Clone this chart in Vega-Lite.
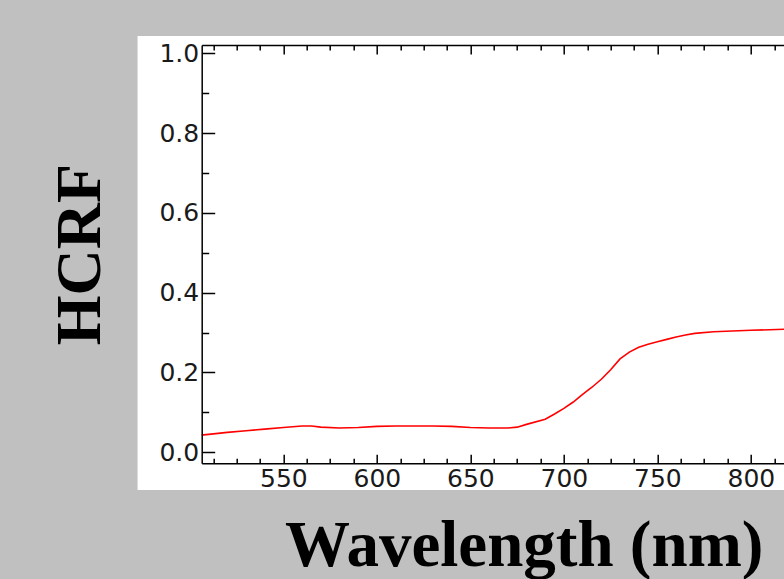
{
  "$schema": "https://vega.github.io/schema/vega-lite/v6.json",
  "width": 582.3,
  "height": 418.3,
  "autosize": {"type": "none"},
  "padding": {"left": 201.7, "top": 45, "right": 0, "bottom": 115.7},
  "background": "#c0c0c0",
  "config": {
    "view": {"stroke": null},
    "axis": {
      "domainColor": "#000000",
      "domainWidth": 1.5,
      "tickColor": "#000000",
      "tickWidth": 1.5,
      "grid": false,
      "labelFont": "DejaVu Sans",
      "labelFontSize": 25,
      "labelColor": "#1a1a1a",
      "titleColor": "#000000",
      "titleFont": "Liberation Serif",
      "titleFontWeight": "bold"
    }
  },
  "data": {
    "values": [
      {"wl": 506, "hcrf": 0.043},
      {"wl": 510, "hcrf": 0.045},
      {"wl": 520, "hcrf": 0.05},
      {"wl": 530, "hcrf": 0.054},
      {"wl": 540, "hcrf": 0.058},
      {"wl": 550, "hcrf": 0.062},
      {"wl": 560, "hcrf": 0.066},
      {"wl": 565, "hcrf": 0.066},
      {"wl": 570, "hcrf": 0.063},
      {"wl": 580, "hcrf": 0.061},
      {"wl": 590, "hcrf": 0.062},
      {"wl": 600, "hcrf": 0.065},
      {"wl": 610, "hcrf": 0.066},
      {"wl": 620, "hcrf": 0.066},
      {"wl": 630, "hcrf": 0.066},
      {"wl": 640, "hcrf": 0.065},
      {"wl": 650, "hcrf": 0.062},
      {"wl": 660, "hcrf": 0.061},
      {"wl": 670, "hcrf": 0.061},
      {"wl": 675, "hcrf": 0.063},
      {"wl": 680, "hcrf": 0.07},
      {"wl": 690, "hcrf": 0.083},
      {"wl": 695, "hcrf": 0.096},
      {"wl": 700, "hcrf": 0.11},
      {"wl": 705, "hcrf": 0.126},
      {"wl": 710, "hcrf": 0.145},
      {"wl": 715, "hcrf": 0.163},
      {"wl": 720, "hcrf": 0.183},
      {"wl": 725, "hcrf": 0.207},
      {"wl": 730, "hcrf": 0.234},
      {"wl": 735, "hcrf": 0.251},
      {"wl": 740, "hcrf": 0.263},
      {"wl": 745, "hcrf": 0.271},
      {"wl": 750, "hcrf": 0.277},
      {"wl": 755, "hcrf": 0.283},
      {"wl": 760, "hcrf": 0.289},
      {"wl": 765, "hcrf": 0.294},
      {"wl": 770, "hcrf": 0.298},
      {"wl": 780, "hcrf": 0.302},
      {"wl": 790, "hcrf": 0.304},
      {"wl": 800, "hcrf": 0.306},
      {"wl": 810, "hcrf": 0.307},
      {"wl": 820, "hcrf": 0.309},
      {"wl": 830, "hcrf": 0.31}
    ]
  },
  "layer": [
    {
      "data": {"values": [{}]},
      "mark": {"type": "rect", "fill": "#ffffff", "clip": false},
      "encoding": {
        "x": {
          "datum": 472,
          "type": "quantitative",
          "scale": {"domain": [506.3, 817.7], "nice": false, "zero": false},
          "axis": {
            "orient": "top",
            "zindex": 2,
            "title": null,
            "labels": false,
            "values": [512.5, 525, 537.5, 550, 562.5, 575, 587.5, 600, 612.5, 625, 637.5, 650, 662.5, 675, 687.5, 700, 712.5, 725, 737.5, 750, 762.5, 775, 787.5, 800, 812.5],
            "tickSize": {"condition": {"test": "datum.value % 50 === 0", "value": -9}, "value": -5}
          }
        },
        "x2": {"datum": 817.7},
        "y": {"datum": 1.0434, "type": "quantitative", "scale": {"domain": [-0.0276, 1.0208], "nice": false, "zero": false}},
        "y2": {"datum": -0.0945}
      }
    },
    {
      "mark": {"type": "line", "color": "#ff0000", "strokeWidth": 1.6, "clip": true},
      "encoding": {
        "x": {
          "field": "wl",
          "type": "quantitative",
          "scale": {"domain": [506.3, 817.7], "nice": false, "zero": false},
          "axis": {
            "orient": "bottom",
            "zindex": 2,
            "title": "Wavelength (nm)",
            "titleFontSize": 65,
            "titleX": 322,
            "titleY": 101.7,
            "titleBaseline": "alphabetic",
            "titleAlign": "center",
            "titleAnchor": "middle",
            "values": [512.5, 525, 537.5, 550, 562.5, 575, 587.5, 600, 612.5, 625, 637.5, 650, 662.5, 675, 687.5, 700, 712.5, 725, 737.5, 750, 762.5, 775, 787.5, 800, 812.5],
            "labelExpr": "datum.value % 50 === 0 ? format(datum.value, 'd') : ''",
            "labelPadding": 12,
            "labelFlush": false,
            "labelOverlap": false,
            "tickSize": {"condition": {"test": "datum.value % 50 === 0", "value": -9}, "value": -5}
          }
        },
        "y": {
          "field": "hcrf",
          "type": "quantitative",
          "scale": {"domain": [-0.0276, 1.0208], "nice": false, "zero": false},
          "axis": {
            "orient": "left",
            "zindex": 2,
            "title": "HCRF",
            "titleFontSize": 64,
            "titleAngle": -90,
            "titleX": -102,
            "titleY": 209,
            "titleBaseline": "alphabetic",
            "titleAlign": "center",
            "titleAnchor": "middle",
            "values": [0, 0.05, 0.1, 0.15, 0.2, 0.25, 0.3, 0.35, 0.4, 0.45, 0.5, 0.55, 0.6, 0.65, 0.7, 0.75, 0.8, 0.85, 0.9, 0.95, 1.0],
            "labelExpr": "abs(datum.value * 5 - round(datum.value * 5)) < 0.000001 ? format(datum.value, '.1f') : ''",
            "labelPadding": 16,
            "labelFlush": false,
            "labelOverlap": false,
            "tickSize": {"condition": {"test": "abs(datum.value * 5 - round(datum.value * 5)) < 0.000001", "value": -13}, "value": -7}
          }
        }
      }
    }
  ],
  "resolve": {"axis": {"x": "independent"}}
}
